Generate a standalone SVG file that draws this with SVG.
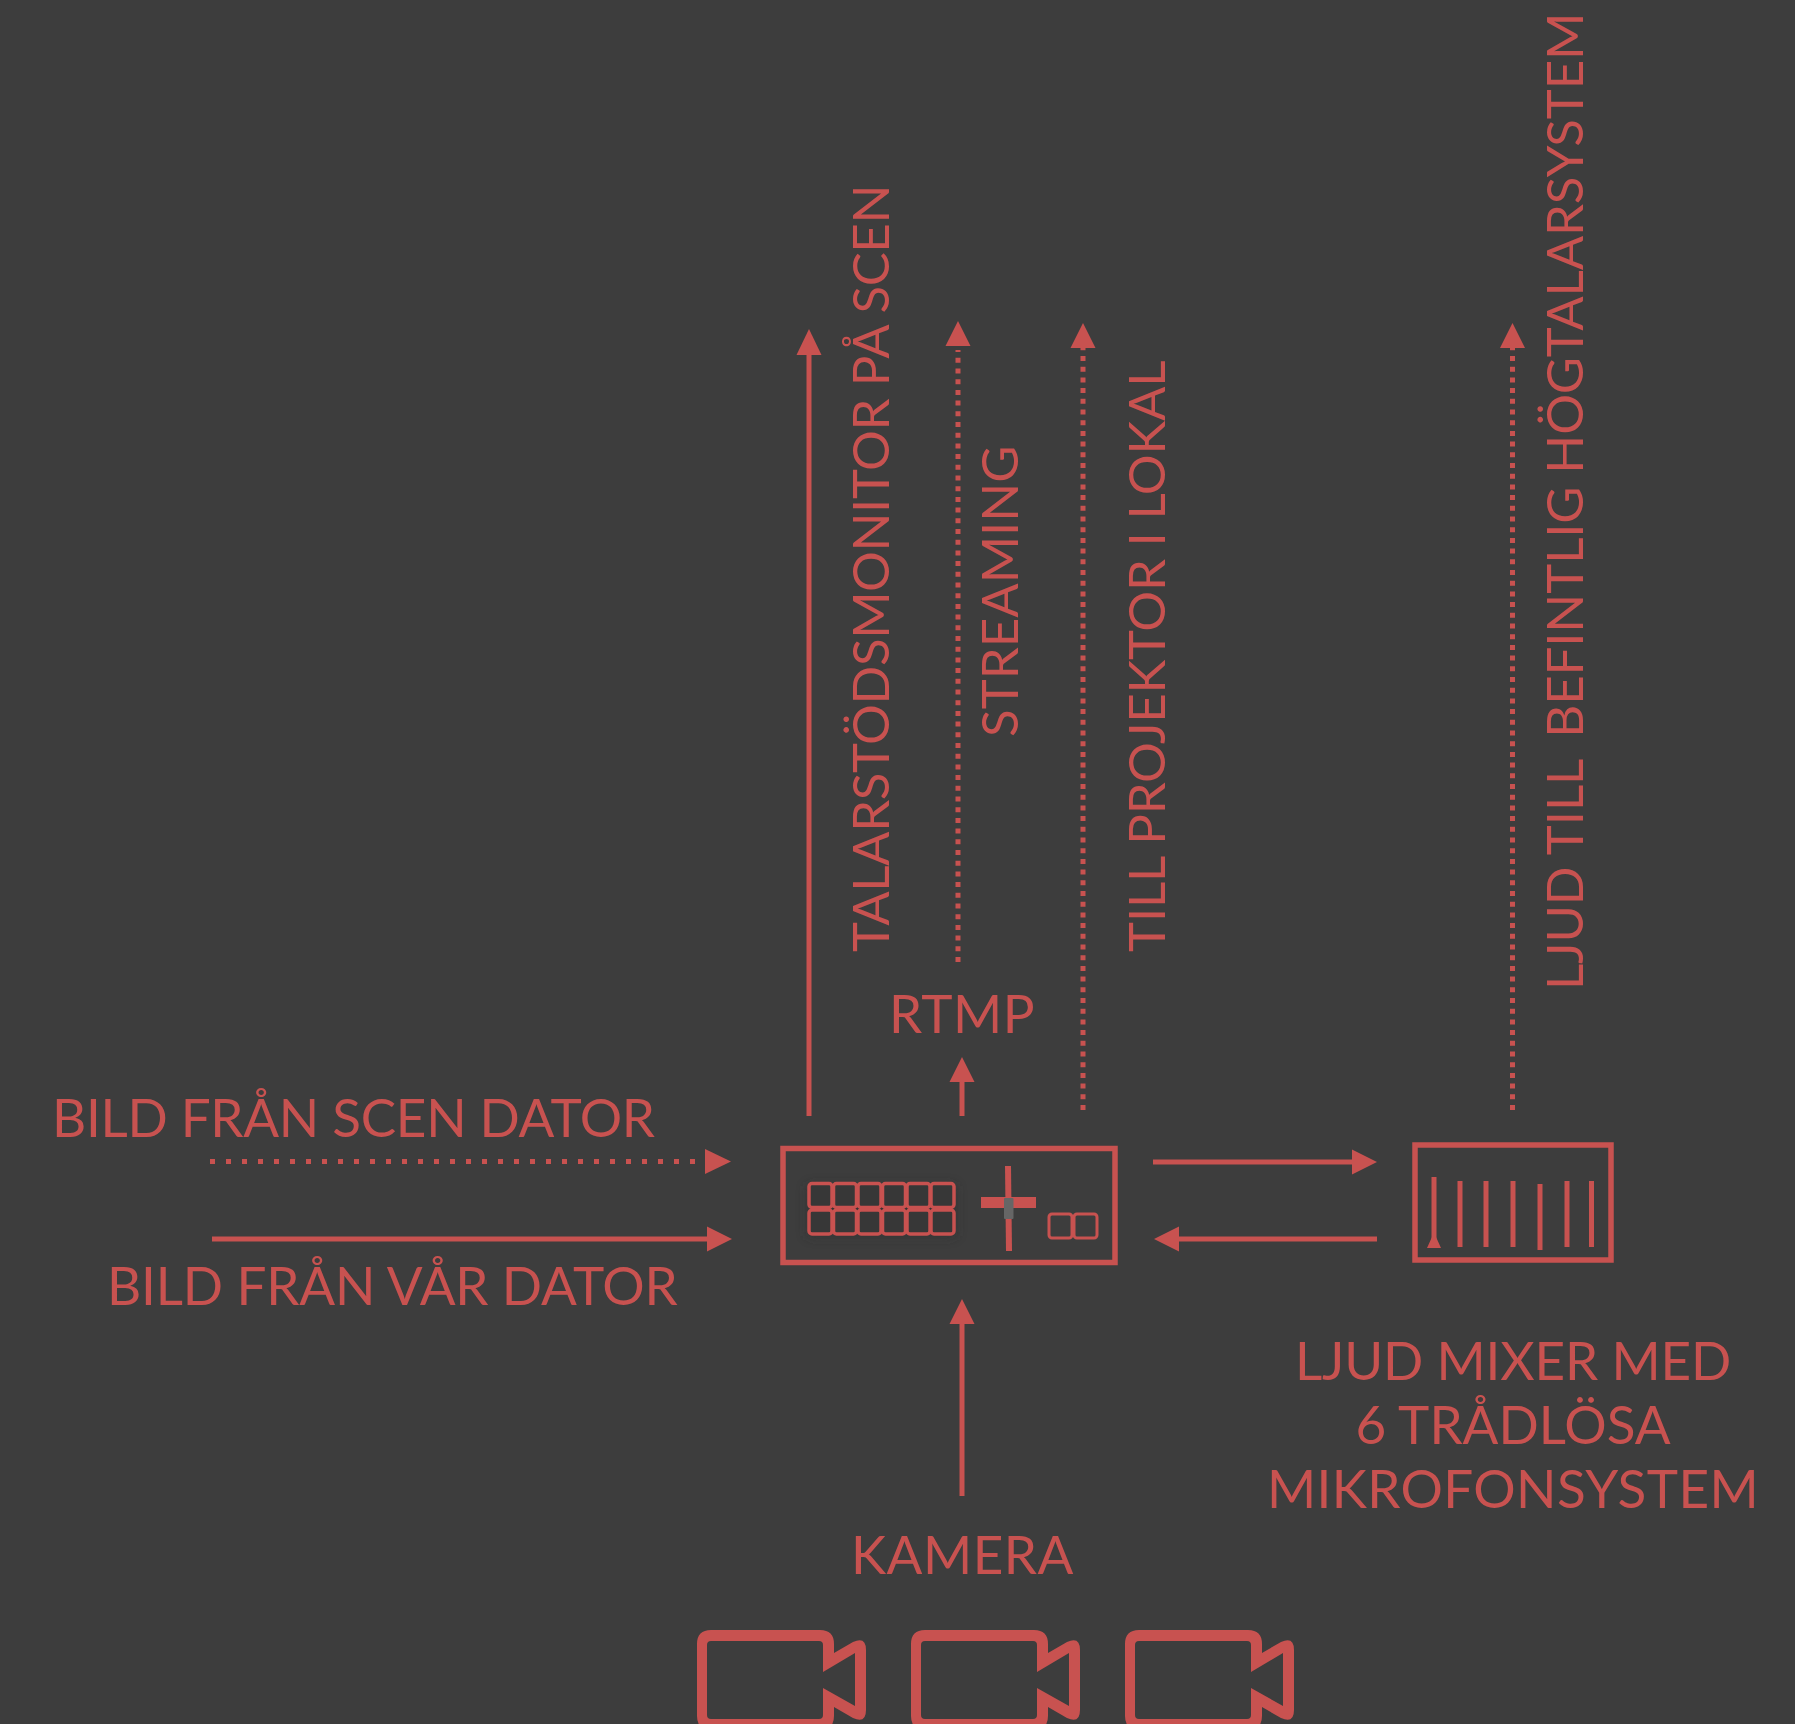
<svg xmlns="http://www.w3.org/2000/svg" width="1795" height="1724" viewBox="0 0 1795 1724">
<style>
.t{font-family:Lato,"Liberation Sans",sans-serif;font-size:53px;fill:#c85250}
.r{font-size:51px}
.l{fill:none;stroke:#c85250;stroke-width:5}
.d{fill:none;stroke:#c85250;stroke-width:5;stroke-dasharray:5 5.7}
.dh{fill:none;stroke:#c85250;stroke-width:5;stroke-dasharray:5 11}
.a{fill:#c85250}
.b{fill:#373737;stroke:#c85250;stroke-width:3.500}
.bs{fill:none;stroke:#c85250;stroke-width:3}
.box{fill:none;stroke:#c85250;stroke-width:5.500}
</style>
<defs>
<filter id="soft" x="-20%" y="-40%" width="140%" height="180%"><feGaussianBlur stdDeviation="6"/></filter>
<path id="cam" fill="#c85250" fill-rule="evenodd" d="M711,1630H820Q834,1630 834,1644V1653L853,1642Q866,1636 866,1650V1710Q866,1724 853,1718L834,1707V1716Q834,1730 820,1730H711Q697,1730 697,1716V1644Q697,1630 711,1630ZM711,1641Q707,1641 707,1645V1715Q707,1719 711,1719H819Q823,1719 823,1715V1688L855,1706V1653L823,1672V1645Q823,1641 819,1641Z"/>
<rect id="btn" width="23" height="24" rx="3"/>
</defs>
<rect width="1795" height="1724" fill="#3d3d3d"/>
<g id="connectors">
<path class="l" d="M809,1116V352"/><path class="a" d="M809,329l12.500,26h-25z"/>
<path class="d" d="M958,962V350"/><path class="a" d="M958,321l12.500,25h-25z"/>
<path class="d" d="M1083,1110V348"/><path class="a" d="M1083,323l12.500,25h-25z"/>
<path class="d" d="M1512.500,1110V348"/><path class="a" d="M1512.500,323l12.500,25h-25z"/>
<path class="l" d="M962,1116V1080"/><path class="a" d="M962,1057l12.500,25h-25z"/>
<path class="dh" d="M210,1161.500H700"/><path class="a" d="M731,1161.500l-26,-12.500v25z"/>
<path class="l" d="M212,1239H710"/><path class="a" d="M732,1239l-25,-12.500v25z"/>
<path class="l" d="M1153,1162H1355"/><path class="a" d="M1377,1162l-25,-12.500v25z"/>
<path class="l" d="M1377,1239H1176"/><path class="a" d="M1154,1239l25,-12.500v25z"/>
<path class="l" d="M962,1496V1322"/><path class="a" d="M962,1299l12.500,25h-25z"/>
</g>
<g id="switcher">
<rect class="box" x="783" y="1148.500" width="332" height="114"/>
<rect x="808" y="1186" width="147" height="50" fill="#2e2e2e" filter="url(#soft)" opacity=".6"/>
<g class="b">
<use href="#btn" x="809" y="1183.500"/><use href="#btn" x="833.500" y="1183.500"/><use href="#btn" x="858" y="1183.500"/><use href="#btn" x="882.500" y="1183.500"/><use href="#btn" x="907" y="1183.500"/><use href="#btn" x="931" y="1183.500"/>
<use href="#btn" x="809" y="1210"/><use href="#btn" x="833.500" y="1210"/><use href="#btn" x="858" y="1210"/><use href="#btn" x="882.500" y="1210"/><use href="#btn" x="907" y="1210"/><use href="#btn" x="931" y="1210"/>
</g>
<path class="a" d="M1005,1166h6l1,85h-6z"/>
<rect class="a" x="981" y="1197" width="55" height="11"/>
<rect x="1004" y="1198" width="9.500" height="21" rx="1" fill="#666"/>
<g class="bs">
<use href="#btn" x="1049" y="1214"/><use href="#btn" x="1074" y="1214"/>
</g>
</g>
<g id="mixer">
<rect class="box" x="1415" y="1145" width="196" height="115"/>
<path class="l" d="M1434,1177V1240M1460,1181V1247M1486,1181V1247M1513,1181V1247M1540,1184V1250M1567,1181V1247M1591.500,1181V1247"/>
<path class="a" d="M1432,1237h4l5,11h-14z"/>
</g>
<g id="cameras">
<use href="#cam"/><use href="#cam" x="214"/><use href="#cam" x="428"/>
</g>
<g id="labels">
<text class="t" x="52" y="1137" letter-spacing="-.3">BILD FRÅN SCEN DATOR</text>
<text class="t" x="107" y="1305" letter-spacing="-.16">BILD FRÅN VÅR DATOR</text>
<text class="t" x="889" y="1033" letter-spacing=".4">RTMP</text>
<text class="t" x="851" y="1574" letter-spacing=".5">KAMERA</text>
<text class="t" x="1513" y="1380" text-anchor="middle" letter-spacing="-.16">LJUD MIXER MED</text>
<text class="t" x="1513" y="1444" text-anchor="middle">6 TRÅDLÖSA</text>
<text class="t" x="1513" y="1508" text-anchor="middle" letter-spacing=".38">MIKROFONSYSTEM</text>
<text class="t r" transform="translate(889,952) rotate(-90)" letter-spacing="-.4">TALARSTÖDSMONITOR PÅ SCEN</text>
<text class="t r" transform="translate(1018,737) rotate(-90)">STREAMING</text>
<text class="t r" transform="translate(1165,952) rotate(-90)" letter-spacing="-.2">TILL PROJEKTOR I LOKAL</text>
<text class="t r" transform="translate(1583,990) rotate(-90)" xml:space="preserve" letter-spacing="-.14">LJUD TILL  <tspan dx="-3">BEFINTLIG HÖGTALARSYSTEM</tspan></text>
</g>
</svg>
